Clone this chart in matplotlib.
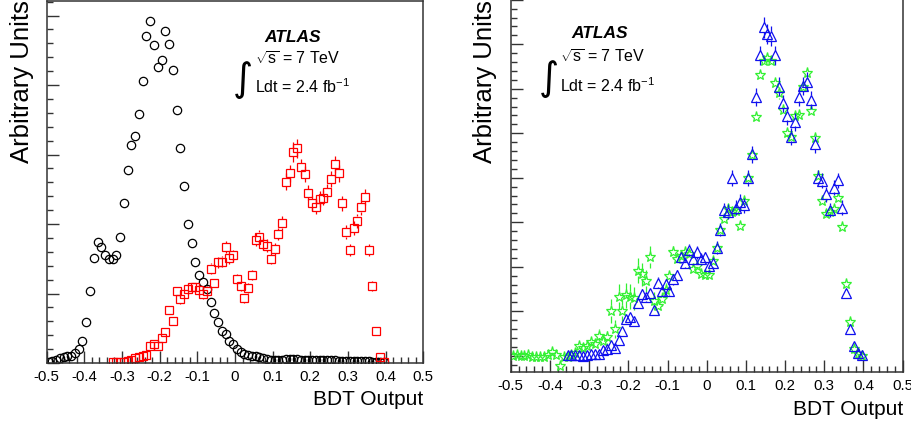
import matplotlib
matplotlib.use("Agg")
import matplotlib.pyplot as plt
import numpy as np
from matplotlib.ticker import MultipleLocator

plt.rcParams['font.family'] = ['Liberation Sans', 'DejaVu Sans']
plt.rcParams['mathtext.fontset'] = 'custom'
plt.rcParams['mathtext.rm'] = 'Liberation Sans'
plt.rcParams['mathtext.it'] = 'Liberation Sans:italic'

# ---- left panel: black circles (background) and red squares (signal)
bkg_x = np.round(np.arange(-0.495, 0.40, 0.01), 3)
bkg_y = [0.01, 0.024, 0.043, 0.072, 0.086, 0.096, 0.105, 0.139, 0.20, 0.31,
         0.585, 1.036, 1.506, 1.741, 1.664, 1.549, 1.49, 1.49, 1.549, 1.818,
         2.297, 2.772, 3.141, 3.266, 3.583, 4.062, 4.71, 4.92, 4.575, 4.254,
         4.365, 4.772, 4.585, 4.216, 3.635, 3.089, 2.547, 2.0, 1.727, 1.453,
         1.266, 1.17, 1.065, 0.883, 0.724, 0.595, 0.46, 0.412, 0.317, 0.269,
         0.206, 0.163, 0.125, 0.115, 0.105, 0.096, 0.082, 0.067, 0.058, 0.05,
         0.048, 0.05, 0.05, 0.052, 0.055, 0.055, 0.052, 0.05, 0.045, 0.042,
         0.042, 0.04, 0.04, 0.038, 0.04, 0.042, 0.04, 0.035, 0.035, 0.032,
         0.03, 0.03, 0.028, 0.026, 0.025, 0.022, 0.02, 0.018, 0.015, 0.012]

sig_x = np.round(np.arange(-0.325, 0.40, 0.01), 3)
sig_y = [0.01, 0.01, 0.02, 0.02, 0.035, 0.05, 0.07, 0.08, 0.10, 0.115,
         0.25, 0.27, 0.25, 0.355, 0.44, 0.76, 0.60, 1.03, 0.92, 1.0,
         1.065, 1.10, 1.10, 1.055, 0.99, 1.035, 1.36, 1.146, 1.45, 1.46,
         1.67, 1.51, 1.55, 1.21, 1.11, 0.935, 1.08, 1.27, 1.775, 1.82,
         1.71, 1.69, 1.50, 1.64, 1.86, 2.01, 2.61, 2.73, 3.04, 3.09,
         2.815, 2.72, 2.45, 2.30, 2.25, 2.36, 2.38, 2.46, 2.65, 2.86,
         2.73, 2.30, 1.88, 1.63, 1.94, 2.05, 2.24, 2.39, 1.63, 1.11,
         0.456, 0.09, 0.01]
sig_err = [0.01, 0.01, 0.01, 0.01, 0.015, 0.02, 0.02, 0.02, 0.025, 0.025,
           0.04, 0.04, 0.04, 0.045, 0.05, 0.06, 0.055, 0.07, 0.065, 0.07,
           0.07, 0.07, 0.07, 0.07, 0.07, 0.07, 0.08, 0.07, 0.08, 0.08,
           0.09, 0.08, 0.08, 0.075, 0.07, 0.065, 0.07, 0.075, 0.09, 0.09,
           0.09, 0.09, 0.08, 0.09, 0.09, 0.1, 0.12, 0.12, 0.14, 0.14,
           0.12, 0.12, 0.11, 0.11, 0.11, 0.11, 0.11, 0.11, 0.12, 0.12,
           0.12, 0.11, 0.1, 0.09, 0.1, 0.1, 0.11, 0.11, 0.09, 0.07,
           0.05, 0.02, 0.01]

# ---- right panel: blue triangles and green stars
tri_x = np.round(np.arange(-0.355, 0.40, 0.01), 3)
tri_y = [0.01, 0.01, 0.01, 0.01, 0.0, 0.01, 0.03, 0.03, 0.03, 0.13,
         0.15, 0.24, 0.18, 0.36, 0.56, 0.82, 0.88, 0.78, 1.18, 1.38,
         1.32, 1.40, 1.02, 1.64, 1.46, 1.61, 1.46, 1.72, 1.81, 2.21,
         2.09, 2.38, 2.17, 2.32, 2.17, 2.21, 2.02, 2.09, 2.43, 2.83,
         3.28, 3.24, 3.99, 3.33, 3.46, 3.38, 4.00, 4.53, 5.82, 6.75,
         7.38, 7.23, 7.19, 6.75, 6.05, 5.67, 5.39, 4.92, 5.26, 5.82,
         6.06, 6.16, 5.75, 4.75, 4.00, 3.93, 3.63, 3.28, 3.78, 3.94,
         3.33, 1.40, 0.60, 0.22, 0.07, 0.01]
tri_err = [0.01, 0.01, 0.01, 0.01, 0.01, 0.01, 0.02, 0.02, 0.02, 0.04,
           0.04, 0.05, 0.05, 0.06, 0.07, 0.09, 0.09, 0.09, 0.1, 0.11,
           0.11, 0.11, 0.1, 0.12, 0.11, 0.12, 0.11, 0.12, 0.12, 0.13,
           0.13, 0.14, 0.13, 0.14, 0.13, 0.13, 0.13, 0.13, 0.14, 0.15,
           0.16, 0.16, 0.18, 0.16, 0.17, 0.17, 0.18, 0.19, 0.2, 0.22,
           0.24, 0.23, 0.23, 0.22, 0.21, 0.2, 0.2, 0.19, 0.2, 0.21,
           0.21, 0.22, 0.2, 0.19, 0.17, 0.17, 0.17, 0.16, 0.17, 0.17,
           0.16, 0.1, 0.07, 0.04, 0.02, 0.01]

star_x = np.round(np.arange(-0.495, 0.40, 0.01), 3)
star_y = [0.0, 0.01, 0.0, 0.0, 0.01, -0.02, -0.03, -0.02, -0.04, 0.01,
          0.086, 0.01, -0.23, -0.04, -0.02, 0.01, 0.07, 0.21, 0.18, 0.22,
          0.30, 0.26, 0.45, 0.33, 0.41, 1.01, 0.60, 1.33, 1.01, 1.36,
          1.33, 1.29, 1.91, 1.83, 1.68, 2.21, 1.23, 1.12, 1.27, 1.48,
          1.79, 2.32, 2.17, 2.24, 2.32, 2.28, 1.94, 2.02, 1.83, 1.81,
          1.81, 2.13, 2.43, 2.83, 3.08, 3.29, 3.22, 3.25, 2.92, 3.48,
          4.00, 4.51, 5.37, 6.30, 6.63, 6.68, 6.63, 6.12, 5.91, 5.52,
          5.01, 4.92, 5.39, 5.42, 6.03, 6.36, 5.50, 4.90, 4.04, 3.48,
          3.18, 3.23, 3.30, 3.55, 2.90, 1.61, 0.75, 0.16, 0.03, 0.0]
star_err = [0.03, 0.03, 0.03, 0.03, 0.03, 0.03, 0.03, 0.03, 0.03, 0.03,
            0.06, 0.04, 0.08, 0.05, 0.05, 0.06, 0.08, 0.1, 0.1, 0.12,
            0.12, 0.12, 0.15, 0.13, 0.15, 0.27, 0.2, 0.28, 0.26, 0.28,
            0.28, 0.26, 0.28, 0.26, 0.24, 0.25, 0.2, 0.18, 0.16, 0.15,
            0.14, 0.15, 0.14, 0.13, 0.12, 0.12, 0.1, 0.1, 0.09, 0.09,
            0.09, 0.09, 0.09, 0.09, 0.09, 0.09, 0.09, 0.09, 0.09, 0.1,
            0.1, 0.11, 0.12, 0.13, 0.13, 0.13, 0.13, 0.13, 0.13, 0.12,
            0.12, 0.12, 0.12, 0.12, 0.13, 0.13, 0.12, 0.12, 0.11, 0.1,
            0.1, 0.1, 0.1, 0.1, 0.1, 0.08, 0.06, 0.04, 0.02, 0.02]

x_ticks = np.round(np.arange(-0.5, 0.51, 0.1), 1)
x_labels = ['-0.5', '-0.4', '-0.3', '-0.2', '-0.1', '0', '0.1', '0.2', '0.3', '0.4', '0.5']


def style_axes(ax, ymajor):
    ax.set_xlim(-0.5, 0.5)
    ax.set_xticks(x_ticks, x_labels)
    ax.xaxis.set_minor_locator(MultipleLocator(0.02))
    ax.yaxis.set_major_locator(MultipleLocator(ymajor))
    ax.yaxis.set_minor_locator(MultipleLocator(ymajor / 5))
    ax.tick_params(which='both', direction='in', top=False, right=False,
                   labelleft=False, color='#333333', width=1.0)
    ax.tick_params(which='major', length=8.5, labelsize=10.8, pad=4)
    ax.tick_params(which='minor', length=4)
    for s in ax.spines.values():
        s.set_linewidth(1.1)
        s.set_color('#333333')


# ROOT style: the error bar stops at the marker edge instead of crossing it
def points_with_errors(ax, x, y, err, marker, color, ms):
    x = np.asarray(x); y = np.asarray(y); err = np.asarray(err)
    px_per_unit = ax.transData.transform((0, 1))[1] - ax.transData.transform((0, 0))[1]
    half = ms * 100 / 72 / 2 / px_per_unit
    keep = err > half
    ax.vlines(x[keep], y[keep] + half, y[keep] + err[keep], color=color, lw=0.9)
    ax.vlines(x[keep], y[keep] - err[keep], y[keep] - half, color=color, lw=0.9)
    ax.plot(x, y, marker, ls='none', color=color, mfc='none', ms=ms, mew=0.9)


def add_atlas(ax, x0, y_atlas, y_s, y_l, x_int):
    ax.text(x0 + 0.1, y_atlas, 'ATLAS', transform=ax.transAxes, ha='center', va='center',
            fontsize=12.5, fontweight='bold', fontstyle='italic')
    ax.text(x0, y_s, r'$\sqrt{\mathrm{s}}$ = 7 TeV', transform=ax.transAxes,
            ha='left', va='center', fontsize=11.5)
    ax.text(x0, y_l, r'Ldt = 2.4 fb$^{\mathrm{-1}}$', transform=ax.transAxes,
            ha='left', va='center', fontsize=11.5)
    ax.text(x_int, (y_s + y_l) / 2 - 0.02, '\u222b', transform=ax.transAxes,
            ha='center', va='center', fontsize=28, family='DejaVu Sans')


fig = plt.figure(figsize=(9.12, 4.27), dpi=100)

ax1 = fig.add_axes([0.0512, 0.1475, 0.4129, 0.8478])
style_axes(ax1, 1.0)
ax1.set_ylim(0, 5.21)
ax1.plot(bkg_x, bkg_y, 'o', color='black', mfc='none', ms=6, mew=0.9)
points_with_errors(ax1, sig_x, sig_y, sig_err, 's', 'red', 6)
add_atlas(ax1, 0.553, 0.903, 0.842, 0.765, 0.522)

ax2 = fig.add_axes([0.560, 0.1258, 0.4298, 0.8766])
style_axes(ax2, 1.0)
ax2.set_ylim(-0.373, 8.04)
points_with_errors(ax2, star_x, star_y, star_err, '*', '#33f033', 8)
points_with_errors(ax2, tri_x, tri_y, tri_err, '^', '#1010ee', 6.5)
add_atlas(ax2, 0.126, 0.909, 0.845, 0.768, 0.098)

fig.text(0.464, 1 - 400 / 427, 'BDT Output', ha='right', va='center', fontsize=15)
fig.text(0.990, 1 - 410 / 427, 'BDT Output', ha='right', va='center', fontsize=15)
fig.text(22 / 912, 1 - 163 / 427, 'Arbitrary Units', rotation=90, ha='center', va='bottom', fontsize=18.5)
fig.text(485 / 912, 1 - 163 / 427, 'Arbitrary Units', rotation=90, ha='center', va='bottom', fontsize=18.5)

fig.savefig('out.png', dpi=100)
